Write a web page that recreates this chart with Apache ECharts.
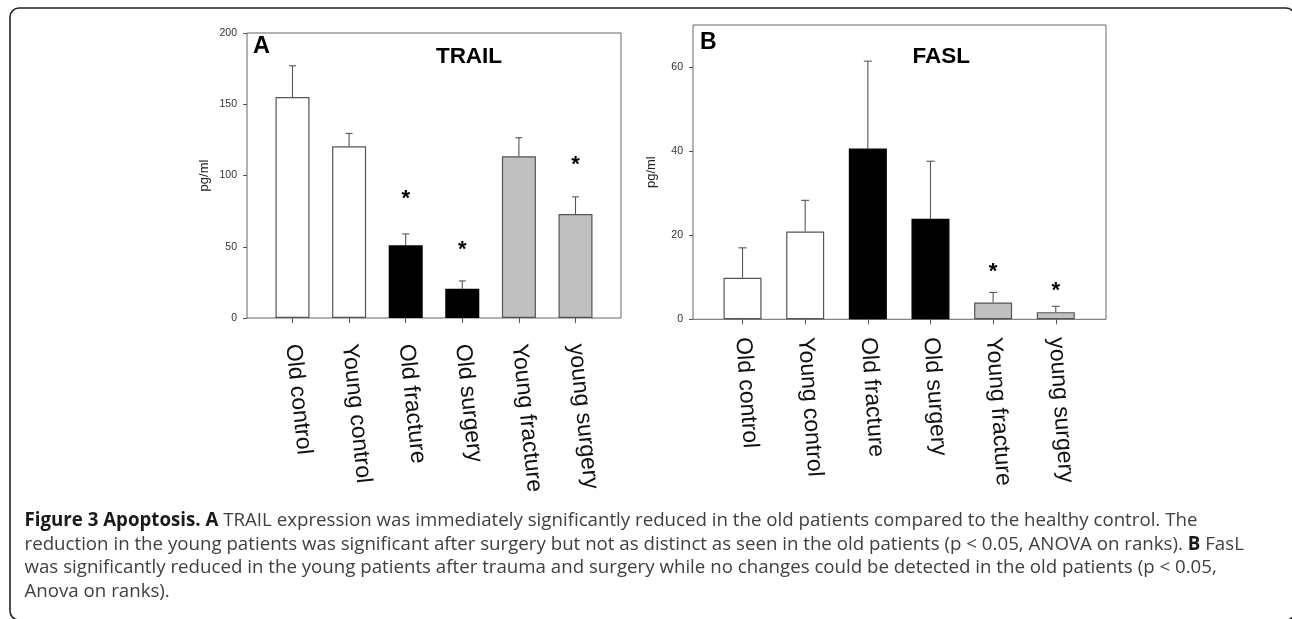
<!DOCTYPE html>
<html><head><meta charset="utf-8">
<script src="https://cdn.jsdelivr.net/npm/echarts@6/dist/echarts.min.js"></script>
<style>html,body{margin:0;padding:0;background:#fff}#c{width:1292px;height:619px}</style>
</head><body><div id="c"></div>
<script>
// ---- data ----
const categories = ['Old control','Young control','Old fracture','Old surgery','Young fracture','young surgery'];
const trailMean = [155, 120.5, 51, 20.5, 113.5, 73];
const trailErr  = [22, 9, 8, 5.5, 13, 12];
const trailSig  = [null, null, 87, 51, null, 111];
const faslMean  = [9.9, 20.9, 40.6, 23.9, 4.0, 1.7];
const faslErr   = [7.1, 7.4, 20.8, 13.7, 2.4, 1.4];
const faslSig   = [null, null, null, null, 12.5, 7.9];
const trailTicks = [0, 50, 100, 150, 200];
const faslTicks  = [0, 20, 40, 60];
const groupFill   = ['#ffffff','#ffffff','#000000','#000000','#c0c0c0','#c0c0c0'];
const groupBorder = ['#555555','#555555','#000000','#000000','#555555','#555555'];

const FONT = '"Liberation Sans", Arial, sans-serif';
const CAP = '"Open Sans", sans-serif';
const CAPSIZE = 18.7;

const chart = echarts.init(document.getElementById('c'));

function barSeries(x, y, mean, bw) {
  return {
    type: 'bar', xAxisIndex: x, yAxisIndex: y, barWidth: bw, z: 3,
    data: mean.map((v, i) => ({value: v, itemStyle: {color: groupFill[i], borderColor: groupBorder[i], borderWidth: 1.2}}))
  };
}
function errSeries(x, y, mean, err, cap) {
  return {
    type: 'custom', xAxisIndex: x, yAxisIndex: y, z: 2,
    data: mean.map((v, i) => [i, v, v + err[i]]),
    renderItem: function (params, api) {
      const p0 = api.coord([api.value(0), api.value(1)]);
      const p1 = api.coord([api.value(0), api.value(2)]);
      return {type: 'group', children: [
        {type: 'line', shape: {x1: p0[0], y1: p0[1], x2: p1[0], y2: p1[1]}, style: {stroke: '#555', lineWidth: 1.1}},
        {type: 'line', shape: {x1: p1[0] - cap, y1: p1[1], x2: p1[0] + cap, y2: p1[1]}, style: {stroke: '#555', lineWidth: 1.1}}
      ]};
    }
  };
}
function sigSeries(x, y, sig) {
  const d = [];
  sig.forEach((v, i) => { if (v != null) d.push([i, v]); });
  return {
    type: 'custom', xAxisIndex: x, yAxisIndex: y, z: 4, data: d,
    renderItem: function (params, api) {
      const p = api.coord([api.value(0), api.value(1)]);
      return {type: 'text', x: p[0], y: p[1] + 5,
        style: {text: '*', font: 'bold 22px ' + FONT, fill: '#000', textAlign: 'center', textVerticalAlign: 'middle', align: 'center', verticalAlign: 'middle'}};
    }
  };
}

const yLabel = {fontSize: 10.5, color: '#333', fontFamily: FONT, margin: 10};
const yName = {fontSize: 13, color: '#222', fontFamily: FONT};
const catLabel = (rot, margin) => ({interval: 0, rotate: rot, margin: margin, fontSize: 23, color: '#111', fontFamily: FONT});

function capLine(y, text, rich) {
  const st = {text: text, font: CAPSIZE + 'px ' + CAP, fill: '#404040', textVerticalAlign: 'middle', verticalAlign: 'middle'};
  if (rich) st.rich = {b: {font: 'bold ' + CAPSIZE + 'px ' + CAP, fill: '#1a1a1a', color: '#1a1a1a'}};
  return {type: 'text', x: 24.5, y: y, style: st};
}

const option = {
  animation: false,
  backgroundColor: '#fff',
  grid: [
    {left: 247, top: 33, width: 374, height: 285, show: true, borderColor: '#666', borderWidth: 1, backgroundColor: 'transparent'},
    {left: 264.2, top: 33, width: 339.6, height: 285},
    {left: 693, top: 25, width: 413, height: 294.3, show: true, borderColor: '#666', borderWidth: 1, backgroundColor: 'transparent'},
    {left: 711.2, top: 25, width: 375.9, height: 294.3}
  ],
  xAxis: [
    {type: 'value', gridIndex: 0, min: 0, max: 1, show: false},
    {type: 'category', gridIndex: 1, data: categories, axisLine: {show: false},
      axisTick: {show: true, alignWithLabel: true, length: 5, lineStyle: {color: '#555'}},
      axisLabel: catLabel(-84, 26)},
    {type: 'value', gridIndex: 2, min: 0, max: 1, show: false},
    {type: 'category', gridIndex: 3, data: categories, axisLine: {show: false},
      axisTick: {show: true, alignWithLabel: true, length: 5, lineStyle: {color: '#555'}},
      axisLabel: catLabel(-86, 18)}
  ],
  yAxis: [
    {type: 'value', gridIndex: 0, min: 0, max: 200, interval: 50, splitLine: {show: false},
      axisLine: {show: false}, axisTick: {show: true, length: 4, customValues: trailTicks, lineStyle: {color: '#555'}},
      axisLabel: Object.assign({customValues: trailTicks}, yLabel),
      name: 'pg/ml', nameLocation: 'middle', nameGap: 36, nameTextStyle: yName},
    {type: 'value', gridIndex: 1, min: 0, max: 200, show: false},
    {type: 'value', gridIndex: 2, min: 0, max: 70, interval: 10, splitLine: {show: false},
      axisLine: {show: false}, axisTick: {show: true, length: 4, customValues: faslTicks, lineStyle: {color: '#555'}},
      axisLabel: Object.assign({customValues: faslTicks}, yLabel),
      name: 'pg/ml', nameLocation: 'middle', nameGap: 35, nameTextStyle: yName},
    {type: 'value', gridIndex: 3, min: 0, max: 70, show: false}
  ],
  series: [
    errSeries(1, 1, trailMean, trailErr, 3.5),
    barSeries(1, 1, trailMean, 34),
    sigSeries(1, 1, trailSig),
    errSeries(3, 3, faslMean, faslErr, 4),
    barSeries(3, 3, faslMean, 38),
    sigSeries(3, 3, faslSig)
  ],
  graphic: [
    {type: 'rect', shape: {x: 10, y: 8, width: 1285, height: 612, r: 9}, style: {fill: 'none', stroke: '#222', lineWidth: 1.6}, silent: true},
    {type: 'text', x: 261.5, y: 47, style: {text: 'A', font: 'bold 23.5px ' + FONT, fill: '#000', textAlign: 'center', textVerticalAlign: 'middle', align: 'center', verticalAlign: 'middle'}},
    {type: 'text', x: 469, y: 56.5, style: {text: 'TRAIL', font: 'bold 22.5px ' + FONT, fill: '#000', textAlign: 'center', textVerticalAlign: 'middle', align: 'center', verticalAlign: 'middle'}},
    {type: 'text', x: 708.3, y: 42.3, style: {text: 'B', font: 'bold 23px ' + FONT, fill: '#000', textAlign: 'center', textVerticalAlign: 'middle', align: 'center', verticalAlign: 'middle'}},
    {type: 'text', x: 941.2, y: 56.3, style: {text: 'FASL', font: 'bold 22.5px ' + FONT, fill: '#000', textAlign: 'center', textVerticalAlign: 'middle', align: 'center', verticalAlign: 'middle'}},
    capLine(521, '{b|Figure 3 Apoptosis. A} TRAIL expression was immediately significantly reduced in the old patients compared to the healthy control. The', true),
    capLine(544.4, 'reduction in the young patients was significant after surgery but not as distinct as seen in the old patients (p < 0.05, ANOVA on ranks). {b|B} FasL', true),
    capLine(567.7, 'was significantly reduced in the young patients after trauma and surgery while no changes could be detected in the old patients (p < 0.05,', false),
    capLine(591.2, 'Anova on ranks).', false)
  ]
};
chart.setOption(option);
</script>
</body></html>
